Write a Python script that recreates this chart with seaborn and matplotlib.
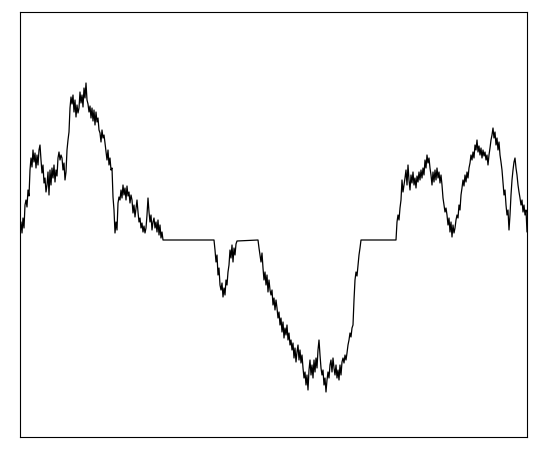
import numpy as np
import pandas as pd
import matplotlib
matplotlib.use("Agg")
import matplotlib.pyplot as plt
import seaborn as sns

# Values (horizontal position, depth below top; axis is inverted)
seg1_t = list(range(20, 164))
seg1_v = [235, 222, 233, 218, 228, 205, 200, 207, 190, 196, 170, 158, 167, 150, 162, 153, 168, 155, 165, 150,
          145, 160, 173, 165, 183, 178, 192, 185, 172, 195, 170, 185, 168, 178, 165, 182, 170, 176, 158, 152,
          160, 155, 158, 170, 163, 180, 172, 150, 140, 132, 108, 97, 104, 95, 112, 100, 117, 105, 113, 108,
          92, 103, 95, 107, 88, 98, 83, 100, 104, 112, 106, 118, 108, 121, 110, 125, 112, 122, 118, 130,
          133, 142, 130, 138, 135, 143, 152, 160, 150, 165, 158, 170, 168, 197, 210, 233, 222, 230, 203, 197,
          200, 190, 198, 185, 195, 188, 200, 186, 196, 192, 203, 195, 200, 213, 205, 217, 208, 200, 212, 222,
          218, 228, 223, 232, 226, 233, 228, 215, 198, 212, 222, 215, 230, 222, 218, 228, 222, 232, 220, 235,
          225, 238, 232, 240]
flat1_t = [214]
flat1_v = [240]
seg2_t = list(range(215, 238))
seg2_v = [250, 262, 255, 275, 268, 285, 290, 283, 297, 288, 295, 280, 285, 272, 265, 250, 258, 245, 262, 248,
          255, 244, 241]
flat2_t = [258]
flat2_v = [240]
seg3_t = list(range(259, 362))
seg3_v = [248, 255, 262, 253, 268, 280, 272, 285, 275, 292, 280, 290, 295, 290, 305, 298, 310, 300, 308, 318,
          312, 325, 318, 332, 322, 338, 328, 335, 325, 340, 333, 345, 340, 350, 343, 358, 348, 362, 352, 345,
          360, 350, 363, 355, 368, 378, 372, 385, 375, 390, 370, 360, 375, 365, 378, 360, 372, 358, 368, 350,
          340, 355, 368, 375, 370, 385, 378, 392, 380, 372, 378, 365, 360, 372, 358, 368, 375, 365, 378, 370,
          380, 365, 375, 362, 358, 363, 355, 360, 353, 345, 340, 333, 337, 328, 325, 300, 280, 272, 276, 265,
          255, 248, 240]
flat3_t = [396]
flat3_v = [240]
seg4_t = list(range(397, 528))
seg4_v = [222, 215, 220, 208, 200, 180, 192, 185, 178, 170, 185, 165, 180, 190, 175, 183, 172, 185, 178, 188,
          176, 182, 172, 180, 170, 178, 168, 175, 160, 168, 155, 163, 158, 168, 175, 185, 172, 182, 170, 180,
          168, 178, 172, 183, 175, 185, 198, 205, 212, 208, 215, 225, 218, 232, 222, 237, 225, 233, 228, 220,
          215, 218, 205, 210, 195, 188, 180, 186, 175, 182, 172, 178, 168, 163, 155, 160, 152, 158, 145, 150,
          140, 152, 146, 155, 148, 158, 150, 156, 152, 160, 155, 165, 155, 148, 140, 135, 128, 138, 132, 145,
          138, 150, 142, 155, 162, 170, 182, 195, 190, 205, 215, 210, 230, 215, 195, 180, 170, 162, 158, 168,
          175, 185, 192, 198, 205, 200, 212, 205, 215, 210, 232]

t = seg1_t + flat1_t + seg2_t + flat2_t + seg3_t + flat3_t + seg4_t
v = seg1_v + flat1_v + seg2_v + flat2_v + seg3_v + flat3_v + seg4_v
df = pd.DataFrame({"t": t, "v": v})

sns.set_style("white")
fig = plt.figure(figsize=(5.39, 4.49), dpi=100)
ax = fig.add_axes([20 / 539, 12 / 449, 507 / 539, 425 / 449])
sns.lineplot(data=df, x="t", y="v", ax=ax, color="black", linewidth=0.9,
             sort=False, estimator=None)
ax.set_xlim(20, 527)
ax.set_ylim(437, 12)
ax.set_xticks([])
ax.set_yticks([])
ax.set_xlabel("")
ax.set_ylabel("")
for s in ax.spines.values():
    s.set_color("black")
    s.set_linewidth(0.8)
fig.savefig("out.png", dpi=100, facecolor="white")
